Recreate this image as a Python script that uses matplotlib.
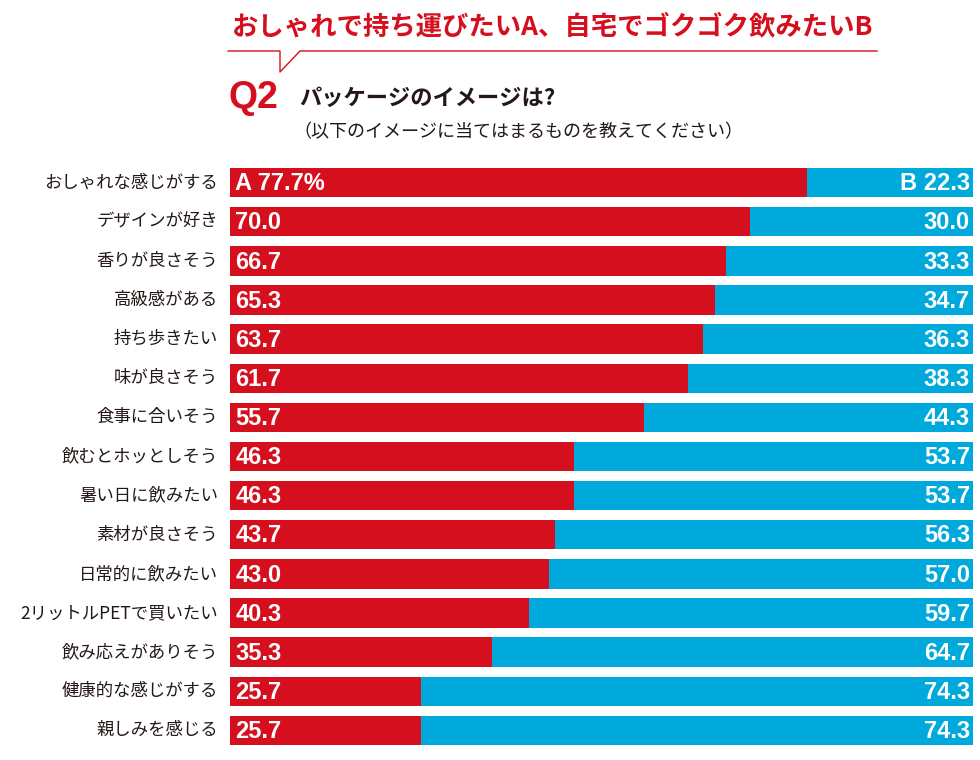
import matplotlib
matplotlib.use("Agg")
import matplotlib.pyplot as plt
from matplotlib.lines import Line2D

plt.rcParams['font.family'] = ['Noto Sans CJK JP', 'DejaVu Sans']

# === Data ===
categories = ["おしゃれな感じがする", "デザインが好き", "香りが良さそう", "高級感がある",
              "持ち歩きたい", "味が良さそう", "食事に合いそう", "飲むとホッとしそう",
              "暑い日に飲みたい", "素材が良さそう", "日常的に飲みたい", "2リットルPETで買いたい",
              "飲み応えがありそう", "健康的な感じがする", "親しみを感じる"]
values_a = [77.7, 70.0, 66.7, 65.3, 63.7, 61.7, 55.7, 46.3, 46.3, 43.7, 43.0, 40.3, 35.3, 25.7, 25.7]
values_b = [22.3, 30.0, 33.3, 34.7, 36.3, 38.3, 44.3, 53.7, 53.7, 56.3, 57.0, 59.7, 64.7, 74.3, 74.3]

RED = '#D50F1E'
BLUE = '#00A9DC'
num_font = ['Liberation Sans', 'Noto Sans CJK JP']

W, H = 980, 760
fig = plt.figure(figsize=(W / 100, H / 100), dpi=100)

# === Bars ===
ax = fig.add_axes([230 / W, 10 / H, 743 / W, 587 / H])
y = list(range(len(categories)))
ax.barh(y, values_a, height=0.75, color=RED)
ax.barh(y, values_b, left=values_a, height=0.75, color=BLUE)
ax.set_xlim(0, 100)
ax.set_ylim(len(categories) - 0.5, -0.5)
ax.axis('off')

for i, (cat, a, b) in enumerate(zip(categories, values_a, values_b)):
    ax.text(-1.6, i, cat, ha='right', va='center', fontsize=12.5, color='#231815')
    a_txt = f"A {a:.1f}%" if i == 0 else f"{a:.1f}"
    b_txt = f"B {b:.1f}" if i == 0 else f"{b:.1f}"
    ax.text(0.7, i + 0.03, a_txt, ha='left', va='center', fontsize=17,
            fontweight='bold', color='white', family=num_font)
    ax.text(99.6, i + 0.03, b_txt, ha='right', va='center', fontsize=17,
            fontweight='bold', color='white', family=num_font)

# === Header ===
fig.text(232 / W, 1 - 27 / H, "おしゃれで持ち運びたいA、自宅でゴクゴク飲みたいB",
         ha='left', va='center', fontsize=19, fontweight='bold', color=RED)

px = lambda x: x / W
py = lambda v: 1 - v / H
fig.add_artist(Line2D([px(228), px(280), px(280), px(300), px(877)],
                      [py(51), py(51), py(72), py(51), py(51)],
                      color=RED, lw=1.0, transform=fig.transFigure))

fig.text(228 / W, 1 - 98 / H, "Q2", ha='left', va='center', fontsize=27,
         fontweight='heavy', color=RED, family=num_font)
fig.text(299 / W, 1 - 98 / H, "パッケージのイメージは?", ha='left', va='center',
         fontsize=16, fontweight='bold', color='#231815')
fig.text(293 / W, 1 - 132 / H, "（以下のイメージに当てはまるものを教えてください）",
         ha='left', va='center', fontsize=13, color='#231815')

fig.savefig("out.png", dpi=100)
